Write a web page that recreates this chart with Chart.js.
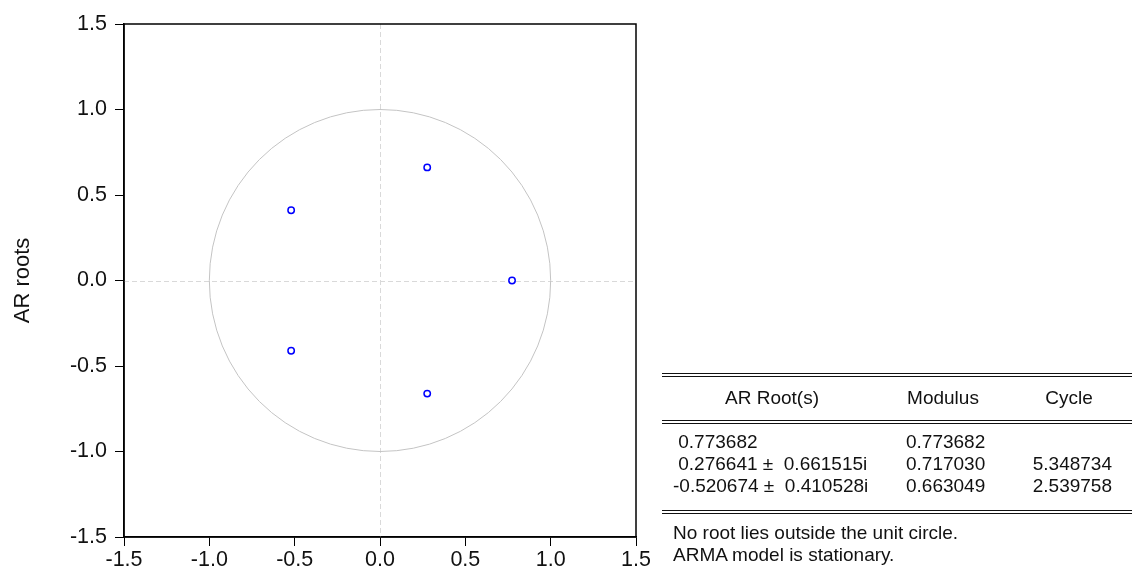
<!DOCTYPE html>
<html>
<head>
<meta charset="utf-8">
<script src="https://cdn.jsdelivr.net/npm/chart.js@4/dist/chart.umd.min.js"></script>
<style>
  html, body { margin: 0; padding: 0; background: #fff; }
  #wrap { position: relative; width: 1132px; height: 575px; overflow: hidden; font-family: "Liberation Sans", Arial, sans-serif; color: #111; }
  #c { position: absolute; left: 0; top: 0; }
  .t { position: absolute; white-space: pre; font-size: 19px; line-height: 22px; }
  .hl { position: absolute; left: 662px; width: 470px; height: 0; border-top: 1.3px solid #111; }
</style>
</head>
<body>
<div id="wrap">
  <canvas id="c" width="1132" height="575"></canvas>
  <div class="hl" style="top:373px"></div>
  <div class="hl" style="top:376px"></div>
  <div class="hl" style="top:420px"></div>
  <div class="hl" style="top:423px"></div>
  <div class="hl" style="top:510px"></div>
  <div class="hl" style="top:513px"></div>
  <div id="table"></div>
</div>
<script>
// AR roots (real, imaginary parts)
const rootRe = [0.773682, 0.276641, 0.276641, -0.520674, -0.520674];
const rootIm = [0.0, 0.661515, -0.661515, 0.410528, -0.410528];
const tickValues = [-1.5, -1.0, -0.5, 0.0, 0.5, 1.0, 1.5];
const yTitle = 'AR roots';

// Table contents
const tableHeaders = ['AR Root(s)', 'Modulus', 'Cycle'];
const tableRoots = [' 0.773682', ' 0.276641 \u00b1  0.661515i', '-0.520674 \u00b1  0.410528i'];
const tableModulus = ['0.773682', '0.717030', '0.663049'];
const tableCycle = ['', '5.348734', '2.539758'];
const notes = ['No root lies outside the unit circle.', 'ARMA model is stationary.'];

// Build table text
(function () {
  const host = document.getElementById('table');
  function add(txt, left, top, align) {
    const d = document.createElement('div');
    d.className = 't';
    d.textContent = txt;
    d.style.top = top + 'px';
    if (align === 'center') { d.style.left = (left - 100) + 'px'; d.style.width = '200px'; d.style.textAlign = 'center'; }
    else if (align === 'right') { d.style.right = (1132 - left) + 'px'; d.style.textAlign = 'right'; }
    else d.style.left = left + 'px';
    host.appendChild(d);
  }
  add(tableHeaders[0], 772, 387, 'center');
  add(tableHeaders[1], 943, 387, 'center');
  add(tableHeaders[2], 1069, 387, 'center');
  const rowTops = [431, 453, 475];
  for (let i = 0; i < tableRoots.length; i++) {
    add(tableRoots[i], 673, rowTops[i]);
    add(tableModulus[i], 906, rowTops[i]);
    if (tableCycle[i]) add(tableCycle[i], 1112, rowTops[i], 'right');
  }
  add(notes[0], 673, 522);
  add(notes[1], 673, 544);
})();

const points = rootRe.map((x, i) => ({ x: x, y: rootIm[i] }));

const decor = {
  id: 'decor',
  beforeDatasetsDraw(chart) {
    const { ctx, chartArea: a, scales: { x, y } } = chart;
    ctx.save();
    ctx.beginPath();
    ctx.rect(a.left, a.top, a.right - a.left, a.bottom - a.top);
    ctx.clip();
    // dashed zero lines
    ctx.strokeStyle = '#d9d9d9';
    ctx.lineWidth = 1;
    ctx.setLineDash([5, 3]);
    const x0 = Math.round(x.getPixelForValue(0)) + 0.5;
    const y0 = Math.round(y.getPixelForValue(0)) + 0.5;
    ctx.beginPath();
    ctx.moveTo(x0, a.top); ctx.lineTo(x0, a.bottom);
    ctx.moveTo(a.left, y0); ctx.lineTo(a.right, y0);
    ctx.stroke();
    ctx.setLineDash([]);
    // unit circle
    const rx = x.getPixelForValue(1) - x.getPixelForValue(0);
    const ry = y.getPixelForValue(0) - y.getPixelForValue(1);
    ctx.strokeStyle = '#c4c4c4';
    ctx.lineWidth = 1;
    ctx.beginPath();
    ctx.ellipse(x.getPixelForValue(0), y.getPixelForValue(0), rx, ry, 0, 0, Math.PI * 2);
    ctx.stroke();
    ctx.restore();
  },
  afterDraw(chart) {
    const { ctx, chartArea: a } = chart;
    ctx.save();
    ctx.strokeStyle = '#000';
    ctx.lineWidth = 1.5;
    ctx.strokeRect(a.left, a.top, a.right - a.left, a.bottom - a.top);
    ctx.restore();
  }
};

const tickFont = { family: '"Liberation Sans", Arial, sans-serif', size: 21.5 };
const titleFont = { family: '"Liberation Sans", Arial, sans-serif', size: 22 };

new Chart(document.getElementById('c'), {
  type: 'scatter',
  data: {
    datasets: [{
      data: points,
      pointStyle: 'circle',
      pointRadius: 3.2,
      pointBorderWidth: 1.5,
      borderColor: '#0000ff',
      backgroundColor: '#ffffff',
      pointBackgroundColor: '#ffffff',
      pointBorderColor: '#0000ff'
    }]
  },
  options: {
    responsive: false,
    animation: false,
    layout: { padding: { left: 0, top: 24, right: 496, bottom: 0 } },
    plugins: { legend: { display: false }, tooltip: { enabled: false } },
    scales: {
      x: {
        type: 'linear',
        min: -1.5, max: 1.5,
        afterBuildTicks: (s) => { s.ticks = tickValues.map(v => ({ value: v })); },
        afterFit: (s) => { s.height = 38; },
        ticks: { color: '#111', font: tickFont, padding: 1, maxRotation: 0, autoSkip: false,
          callback: (v) => Number(v).toFixed(1) },
        grid: { drawOnChartArea: false, drawTicks: true, tickLength: 9, tickColor: '#000', tickWidth: 1 },
        border: { display: true, color: '#000', width: 1.5 }
      },
      y: {
        type: 'linear',
        min: -1.5, max: 1.5,
        afterBuildTicks: (s) => { s.ticks = tickValues.map(v => ({ value: v })); },
        afterFit: (s) => { s.width = 124; },
        ticks: { color: '#111', font: tickFont, padding: 8, autoSkip: false,
          callback: (v) => Number(v).toFixed(1) },
        grid: { drawOnChartArea: false, drawTicks: true, tickLength: 9, tickColor: '#000', tickWidth: 1 },
        border: { display: true, color: '#000', width: 1.5 },
        title: { display: true, text: yTitle, color: '#111', font: titleFont, padding: { top: 10, bottom: 0 } }
      }
    }
  },
  plugins: [decor]
});
</script>
</body>
</html>
